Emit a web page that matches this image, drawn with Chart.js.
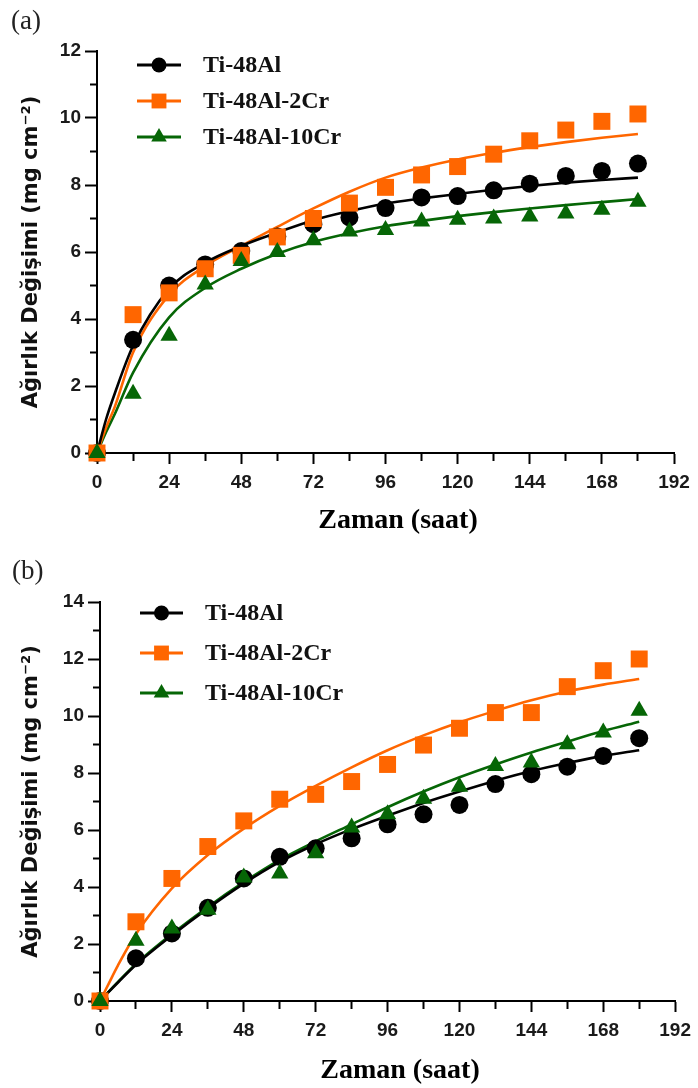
<!DOCTYPE html>
<html>
<head>
<meta charset="utf-8">
<script src="https://cdn.jsdelivr.net/npm/chart.js@4.4.1/dist/chart.umd.min.js"></script>
<style>
  html, body { margin: 0; padding: 0; background: #fff; }
  #wrap { position: relative; width: 698px; height: 1088px; overflow: hidden; background: #fff; }
  #wrap canvas { position: absolute; left: 0; }
</style>
</head>
<body>
<div id="wrap">
  <canvas id="chartA" width="698" height="544" style="top:0px"></canvas>
  <canvas id="chartB" width="698" height="544" style="top:544px"></canvas>
</div>
<script>
// Sampling times (hours)
const HOURS = [0, 12, 24, 36, 48, 60, 72, 84, 96, 108, 120, 132, 144, 156, 168, 180];
const FIT_HOURS = [0, 3, 6, 12, 24, 36, 48, 60, 72, 84, 96, 108, 120, 132, 144, 156, 168, 180];

// Series names
const SERIES_NAMES = ['Ti-48Al', 'Ti-48Al-2Cr', 'Ti-48Al-10Cr'];

// Panel (a): measured weight change (mg cm-2)
const A_TI48AL      = [0, 3.38, 5.00, 5.63, 6.03, 6.46, 6.83, 7.03, 7.31, 7.63, 7.67, 7.84, 8.04, 8.27, 8.42, 8.64];
const A_TI48AL_2CR  = [0, 4.13, 4.78, 5.50, 5.90, 6.45, 7.00, 7.46, 7.93, 8.30, 8.55, 8.92, 9.32, 9.64, 9.90, 10.12];
const A_TI48AL_10CR = [0, 1.77, 3.50, 5.03, 5.73, 6.00, 6.35, 6.61, 6.66, 6.91, 6.96, 7.00, 7.06, 7.15, 7.26, 7.50];

// Panel (a): fitted curves
const A_FIT_TI48AL      = [0, 1.00, 1.80, 3.20, 4.90, 5.68, 6.18, 6.58, 6.95, 7.22, 7.45, 7.60, 7.73, 7.86, 7.97, 8.07, 8.15, 8.22];
const A_FIT_TI48AL_2CR  = [0, 0.75, 1.40, 3.00, 4.72, 5.58, 6.18, 6.75, 7.30, 7.80, 8.22, 8.52, 8.76, 8.96, 9.13, 9.28, 9.41, 9.52];
const A_FIT_TI48AL_10CR = [0, 0.62, 1.18, 2.40, 4.05, 4.93, 5.50, 5.95, 6.30, 6.56, 6.77, 6.93, 7.07, 7.19, 7.30, 7.40, 7.49, 7.58];

// Panel (b): measured weight change (mg cm-2)
const B_TI48AL      = [0, 1.50, 2.37, 3.27, 4.30, 5.06, 5.36, 5.71, 6.20, 6.55, 6.88, 7.61, 7.96, 8.22, 8.60, 9.22];
const B_TI48AL_2CR  = [0, 2.78, 4.30, 5.42, 6.32, 7.08, 7.25, 7.70, 8.30, 8.98, 9.57, 10.12, 10.12, 11.03, 11.59, 12.00];
const B_TI48AL_10CR = [0, 2.11, 2.54, 3.20, 4.33, 4.47, 5.18, 6.09, 6.55, 7.10, 7.52, 8.25, 8.37, 9.01, 9.42, 10.18];

// Panel (b): fitted curves
const B_FIT_TI48AL      = [0, 0.33, 0.65, 1.27, 2.30, 3.25, 4.12, 4.88, 5.50, 6.03, 6.50, 6.95, 7.35, 7.73, 8.07, 8.35, 8.60, 8.80];
const B_FIT_TI48AL_2CR  = [0, 0.63, 1.25, 2.35, 3.95, 5.12, 6.05, 6.85, 7.55, 8.20, 8.80, 9.32, 9.78, 10.18, 10.55, 10.86, 11.10, 11.30];
const B_FIT_TI48AL_10CR = [0, 0.34, 0.67, 1.30, 2.35, 3.30, 4.17, 4.95, 5.60, 6.20, 6.80, 7.35, 7.85, 8.30, 8.72, 9.10, 9.47, 9.80];

// Axis ticks
const X_TICK_LABELS = [0, 24, 48, 72, 96, 120, 144, 168, 192];
const A_Y_TICK_LABELS = [0, 2, 4, 6, 8, 10, 12];
const B_Y_TICK_LABELS = [0, 2, 4, 6, 8, 10, 12, 14];

// Marker styling per series
const STYLES = [
  { color: '#000000', pointStyle: 'circle',   radius: 9,  legendRadius: 7.5 },
  { color: '#ff6600', pointStyle: 'rect',     radius: 12, legendRadius: 10.5 },
  { color: '#066606', pointStyle: 'triangle', radius: 10, legendRadius: 9 }
];

const TICK_FONT = { family: '"Liberation Sans", Arial, sans-serif', size: 19, weight: 'bold' };
const SERIF = '"Liberation Serif", "Times New Roman", serif';

function toXY(xs, ys) { return xs.map((x, i) => ({ x: x, y: ys[i] })); }

function buildDatasets(points, fits) {
  const sets = [];
  fits.forEach((ys, i) => {
    sets.push({
      label: SERIES_NAMES[i] + ' fit',
      data: toXY(FIT_HOURS, ys),
      borderColor: STYLES[i].color,
      borderWidth: 2.6,
      pointRadius: 0,
      fill: false,
      cubicInterpolationMode: 'monotone',
      clip: false,
      order: 10
    });
  });
  points.forEach((ys, i) => {
    sets.push({
      label: SERIES_NAMES[i],
      data: toXY(HOURS, ys),
      showLine: false,
      pointStyle: STYLES[i].pointStyle,
      pointRadius: STYLES[i].radius,
      pointBackgroundColor: STYLES[i].color,
      pointBorderWidth: 0,
      borderColor: STYLES[i].color,
      clip: false,
      order: 3 - i,
      isSeries: true,
      seriesIndex: i
    });
  });
  return sets;
}

// Draws the panel letter, the x-axis caption and the in-plot legend
const panelDecor = {
  id: 'panelDecor',
  afterDraw(chart, args, opts) {
    const ctx = chart.ctx;
    ctx.save();
    ctx.fillStyle = '#222';
    ctx.font = '27px ' + SERIF;
    ctx.textAlign = 'left';
    ctx.textBaseline = 'middle';
    ctx.fillText(opts.letter, opts.letterX, opts.letterY);

    ctx.fillStyle = '#000';
    ctx.font = 'bold 28px ' + SERIF;
    ctx.textAlign = 'center';
    ctx.fillText(opts.xTitle, opts.xTitleX, opts.xTitleY);

    chart.data.datasets.filter(d => d.isSeries).forEach(ds => {
      const i = ds.seriesIndex;
      const y = opts.rows[i];
      const st = STYLES[i];
      ctx.strokeStyle = st.color;
      ctx.lineWidth = 3;
      ctx.beginPath();
      ctx.moveTo(opts.lineX0, y);
      ctx.lineTo(opts.lineX1, y);
      ctx.stroke();
      ctx.fillStyle = st.color;
      Chart.helpers.drawPoint(ctx, { pointStyle: st.pointStyle, radius: st.legendRadius, borderWidth: 0, rotation: 0 },
        (opts.lineX0 + opts.lineX1) / 2, y);
      ctx.fillStyle = '#111';
      ctx.font = 'bold 24px ' + SERIF;
      ctx.textAlign = 'left';
      ctx.textBaseline = 'middle';
      ctx.fillText(ds.label, opts.textX, y + 1);
    });
    ctx.restore();
  }
};

function makeChart(id, p) {
  return new Chart(document.getElementById(id), {
    type: 'line',
    data: { datasets: buildDatasets(p.points, p.fits) },
    plugins: [panelDecor],
    options: {
      responsive: false,
      animation: false,
      devicePixelRatio: 1,
      events: [],
      layout: { padding: { left: 0, top: p.top, right: 698 - p.right, bottom: 0 } },
      plugins: {
        legend: { display: false },
        tooltip: { enabled: false },
        panelDecor: p.decor
      },
      scales: {
        x: {
          type: 'linear',
          min: 0,
          max: 192,
          afterFit: s => { s.height = p.xAxisHeight; },
          border: { display: true, color: '#000', width: 2 },
          grid: {
            drawOnChartArea: false,
            drawTicks: true,
            tickLength: 11,
            tickWidth: 2,
            tickColor: '#000',
            tickBorderDash: c => (c.tick && X_TICK_LABELS.includes(c.tick.value)) ? [] : [7, 100]
          },
          ticks: {
            stepSize: 12,
            autoSkip: false,
            maxRotation: 0,
            padding: 7,
            color: '#1a1a1a',
            font: TICK_FONT,
            callback: v => X_TICK_LABELS.includes(v) ? String(v) : ''
          },
          title: { display: false }
        },
        y: {
          min: 0,
          max: p.yMax,
          afterFit: s => { s.width = p.left; },
          border: { display: true, color: '#000', width: 2 },
          grid: {
            drawOnChartArea: false,
            drawTicks: true,
            tickLength: 12,
            tickWidth: 2,
            tickColor: '#000',
            tickBorderDash: c => (c.tick && p.yLabels.includes(c.tick.value)) ? [] : [0, 5, 7, 100]
          },
          ticks: {
            stepSize: 1,
            autoSkip: false,
            padding: 4,
            color: '#1a1a1a',
            font: TICK_FONT,
            callback: v => p.yLabels.includes(v) ? String(v) : ''
          },
          title: {
            display: true,
            text: 'Ağırlık Değişimi (mg cm⁻²)',
            color: '#111',
            font: { family: '"DejaVu Sans", "Liberation Sans", sans-serif', size: 21, weight: 'bold' },
            padding: { top: 19, bottom: 0 }
          }
        }
      }
    }
  });
}

makeChart('chartA', {
  points: [A_TI48AL, A_TI48AL_2CR, A_TI48AL_10CR],
  fits: [A_FIT_TI48AL, A_FIT_TI48AL_2CR, A_FIT_TI48AL_10CR],
  yMax: 12, yLabels: A_Y_TICK_LABELS,
  left: 97, right: 674, top: 51, xAxisHeight: 91,
  decor: { letter: '(a)', letterX: 11, letterY: 22, xTitle: 'Zaman (saat)', xTitleX: 398, xTitleY: 521,
           rows: [65, 101, 137], lineX0: 137, lineX1: 181, textX: 203 }
});

makeChart('chartB', {
  points: [B_TI48AL, B_TI48AL_2CR, B_TI48AL_10CR],
  fits: [B_FIT_TI48AL, B_FIT_TI48AL_2CR, B_FIT_TI48AL_10CR],
  yMax: 14, yLabels: B_Y_TICK_LABELS,
  left: 100, right: 677, top: 58, xAxisHeight: 87,
  decor: { letter: '(b)', letterX: 12, letterY: 28, xTitle: 'Zaman (saat)', xTitleX: 400, xTitleY: 527,
           rows: [69, 109, 149], lineX0: 140, lineX1: 183, textX: 205 }
});
</script>
</body>
</html>
